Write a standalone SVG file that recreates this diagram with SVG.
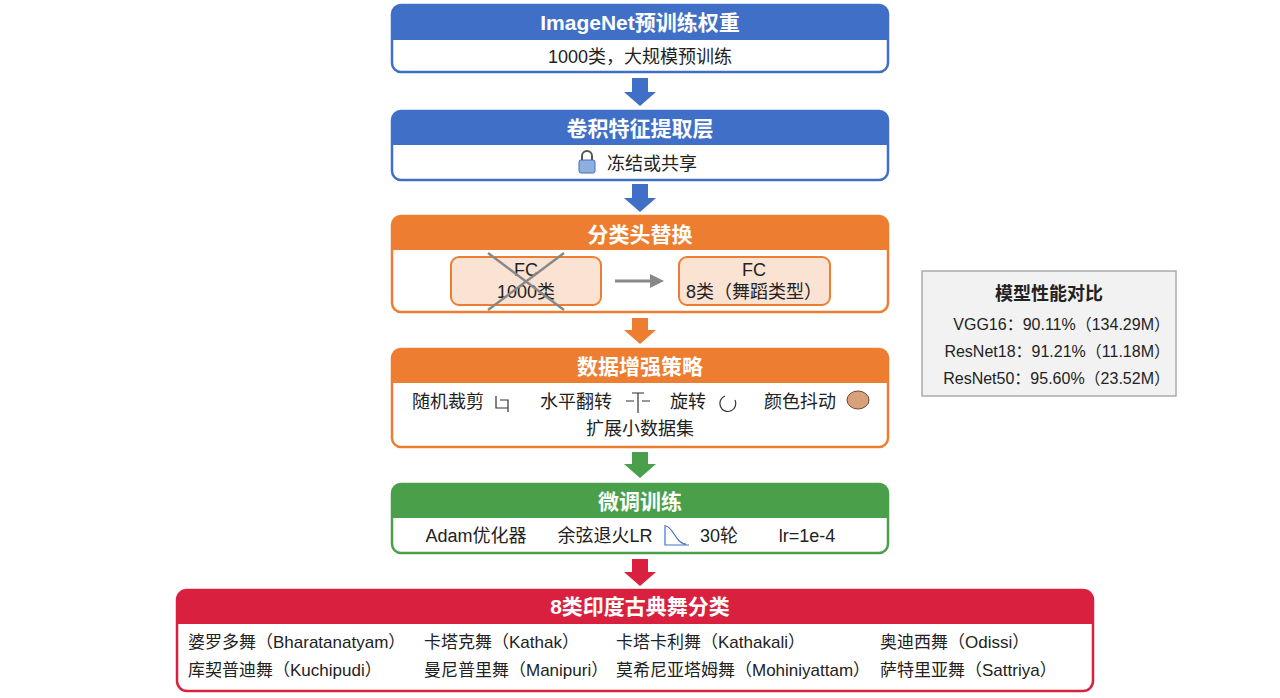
<svg xmlns="http://www.w3.org/2000/svg" width="1280" height="698" viewBox="0 0 1280 698">
<style>
text{font-family:"Liberation Sans","Noto Sans CJK SC",sans-serif;fill:#222;font-size:18px;text-anchor:middle}
text.s{text-anchor:start;font-size:17px}
text.e{text-anchor:end;font-size:16px}
.h{fill:#fff;font-size:21px;font-weight:bold}
.b{fill:#fff;stroke-width:2.5}
</style>
<rect width="1280" height="698" fill="#fff"/>
<g id="n1">
<rect x="392" y="5" width="496" height="67" rx="9" class="b" stroke="#3f6fc6"/>
<path d="M392 40V14a9 9 0 0 1 9-9h478a9 9 0 0 1 9 9v26z" fill="#3f6fc6"/>
<text x="640" y="30" class="h">ImageNet预训练权重</text>
<text x="640" y="63">1000类，大规模预训练</text>
</g>
<g id="n2">
<rect x="392" y="111" width="496" height="69" rx="9" class="b" stroke="#3f6fc6"/>
<path d="M392 145V120a9 9 0 0 1 9-9h478a9 9 0 0 1 9 9v25z" fill="#3f6fc6"/>
<text x="640" y="136" class="h">卷积特征提取层</text>
<rect x="579" y="160" width="16" height="13" rx="2" fill="#8fb0de" stroke="#3f6fc6"/>
<path d="M582 160v-4a5 5 0 0 1 10 0v4" fill="none" stroke="#555" stroke-width="2"/>
<text x="652" y="170">冻结或共享</text>
</g>
<g id="n3">
<rect x="392" y="216" width="496" height="96" rx="9" class="b" stroke="#ed7d31"/>
<path d="M392 250V225a9 9 0 0 1 9-9h478a9 9 0 0 1 9 9v25z" fill="#ed7d31"/>
<text x="640" y="242" class="h">分类头替换</text>
<rect x="451" y="257" width="150" height="48" rx="8" fill="#fbe3d4" stroke="#ed7d31" stroke-width="2"/>
<text x="526" y="276" font-size="16">FC</text>
<text x="526" y="298" font-size="16">1000类</text>
<path d="M488 253L564 310M564 253L488 310" stroke="#888" stroke-width="2.5"/>
<rect x="679" y="257" width="151" height="48" rx="8" fill="#fbe3d4" stroke="#ed7d31" stroke-width="2"/>
<text x="754" y="276" font-size="16">FC</text>
<text x="754" y="298" font-size="16">8类（舞蹈类型）</text>
</g>
<g id="n4">
<rect x="392" y="349" width="496" height="98" rx="9" class="b" stroke="#ed7d31"/>
<path d="M392 383V358a9 9 0 0 1 9-9h478a9 9 0 0 1 9 9v25z" fill="#ed7d31"/>
<text x="640" y="374" class="h">数据增强策略</text>
<text x="448" y="408">随机裁剪</text>
<path d="M496 396v12h12M500 400h8v12" fill="none" stroke="#333" stroke-width="1.2"/>
<text x="576" y="408">水平翻转</text>
<path d="M632 393h12M638 393v20M626 401h8M650 401h-8" fill="none" stroke="#333" stroke-width="1.2"/>
<text x="688" y="408">旋转</text>
<path d="M725 396a8 8 0 1 0 10 4" fill="none" stroke="#333" stroke-width="1.2"/>
<text x="800" y="408">颜色抖动</text>
<ellipse cx="858" cy="400" rx="11" ry="9" fill="#d9a07a" stroke="#6a4a30"/>
<text x="640" y="435">扩展小数据集</text>
</g>
<g id="n5">
<rect x="392" y="484" width="496" height="69" rx="9" class="b" stroke="#4aa04a"/>
<path d="M392 518V493a9 9 0 0 1 9-9h478a9 9 0 0 1 9 9v25z" fill="#4aa04a"/>
<text x="640" y="509" class="h">微调训练</text>
<text x="476" y="542">Adam优化器</text>
<text x="605" y="542">余弦退火LR</text>
<path d="M665 525v20h24M666 526c8 2 10 18 20 18" fill="none" stroke="#4472c4" stroke-width="1.2"/>
<text x="719" y="542">30轮</text>
<text x="807" y="542">lr=1e-4</text>
</g>
<g id="n6">
<rect x="177" y="590" width="916" height="101" rx="10" class="b" stroke="#d9213f"/>
<path d="M177 624V600a10 10 0 0 1 10-10h896a10 10 0 0 1 10 10v24z" fill="#d9213f"/>
<text x="640" y="614" class="h">8类印度古典舞分类</text>
<text x="188" y="648" class="s">婆罗多舞（Bharatanatyam）</text>
<text x="424" y="648" class="s">卡塔克舞（Kathak）</text>
<text x="616" y="648" class="s">卡塔卡利舞（Kathakali）</text>
<text x="880" y="648" class="s">奥迪西舞（Odissi）</text>
<text x="188" y="676" class="s">库契普迪舞（Kuchipudi）</text>
<text x="424" y="676" class="s">曼尼普里舞（Manipuri）</text>
<text x="616" y="676" class="s">莫希尼亚塔姆舞（Mohiniyattam）</text>
<text x="880" y="676" class="s">萨特里亚舞（Sattriya）</text>
</g>
<g id="perf">
<rect x="922" y="271" width="254" height="125" fill="#f2f2f2" stroke="#aaa" stroke-width="1.5"/>
<text x="1049" y="300" font-weight="bold" font-size="19">模型性能对比</text>
<text x="1170" y="330" class="e">VGG16：90.11%（134.29M）</text>
<text x="1170" y="357" class="e">ResNet18：91.21%（11.18M）</text>
<text x="1170" y="384" class="e">ResNet50：95.60%（23.52M）</text>
</g>
<g id="connectors">
<path d="M632 78h16v14h8l-16 14-16-14h8z" fill="#3f6fc6"/>
<path d="M632 184h16v14h8l-16 14-16-14h8z" fill="#3f6fc6"/>
<path d="M632 318h16v12h8l-16 14-16-14h8z" fill="#ed7d31"/>
<path d="M632 452h16v12h8l-16 14-16-14h8z" fill="#4aa04a"/>
<path d="M632 559h16v13h8l-16 14-16-14h8z" fill="#d9213f"/>
<line x1="615" y1="281" x2="652" y2="281" stroke="#888" stroke-width="3"/>
<path d="M650 274l14 7-14 7z" fill="#888"/>
</g>
</svg>
